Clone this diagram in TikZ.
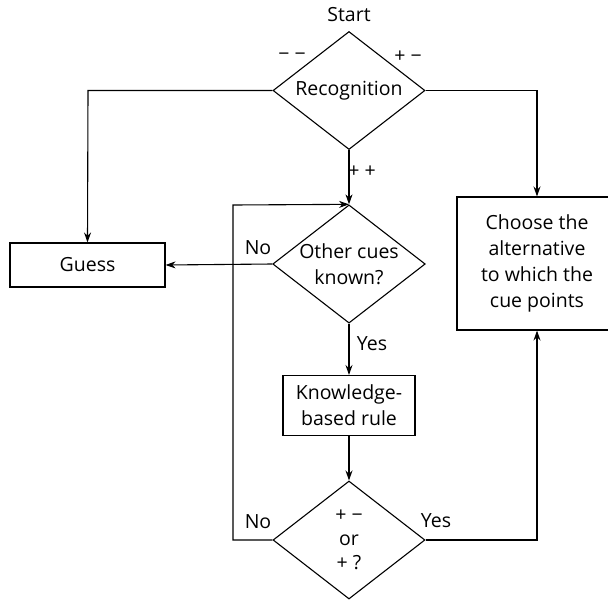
\documentclass[tikz,border=0pt]{standalone}
\usepackage{fontspec}
\setmainfont{Open Sans}
\usetikzlibrary{arrows.meta,shapes.geometric}
\begin{document}
\begin{tikzpicture}[x=1pt,y=-1pt,
  line width=1.1pt,
  >={Stealth[length=10pt,width=7pt]},
  every node/.style={font=\fontsize{19.5}{26}\selectfont},
  dia/.style={draw,diamond,aspect=1.29,minimum width=152pt,minimum height=118pt,inner sep=0pt,align=center},
  boxn/.style={draw,rectangle,align=center,inner sep=0pt},
  lbl/.style={inner sep=0pt}]
\useasboundingbox (0,0) rectangle (608,600);
\clip (0,0) rectangle (608,600);
\node[lbl] (start) at (349,15) {Start};
\node[dia] (rec) at (349,90.5) {Recognition};
\node[dia] (oth) at (349,264) {Other cues\\known?};
\node[dia,font=\fontsize{19.5}{24}\selectfont] (pm) at (349,540) {+ −\\or\\+ ?};
\node[boxn,minimum width=155pt,minimum height=44pt] (guess) at (87.5,265) {Guess};
\node[boxn,minimum width=160pt,minimum height=133pt] (choose) at (537,263.5) {Choose the\\alternative\\to which the\\cue points};
\node[boxn,minimum width=132pt,minimum height=60pt] (kn) at (349,405.5) {Knowledge-\\based rule};
\coordinate (c1) at (88,90.5);
\coordinate (c2) at (537,90.5);
\coordinate (c3) at (233,540);
\coordinate (c4) at (233,205);
\coordinate (c5) at (537,540);
\draw[->] (rec.west) -- (c1) -- (guess.north);
\draw[->] (rec.east) -- (c2) -- (choose.north);
\draw[->] (rec.south) -- (oth.north);
\draw[->] (oth.west) -- (guess.east);
\draw[->] (oth.south) -- (kn.north);
\draw[->] (kn.south) -- (pm.north);
\draw[->] (pm.west) -- (c3) -- (c4) -- (oth.north);
\draw[->] (pm.east) -- (c5) -- (choose.south);
\node[lbl] (l1) at (292,57) {− −};
\node[lbl] (l2) at (408,57) {+ −};
\node[lbl] (l3) at (362,172) {+ +};
\node[lbl] (l4) at (258,248) {No};
\node[lbl] (l5) at (372,344) {Yes};
\node[lbl] (l6) at (258,522) {No};
\node[lbl] (l7) at (436,521) {Yes};
\end{tikzpicture}
\end{document}
